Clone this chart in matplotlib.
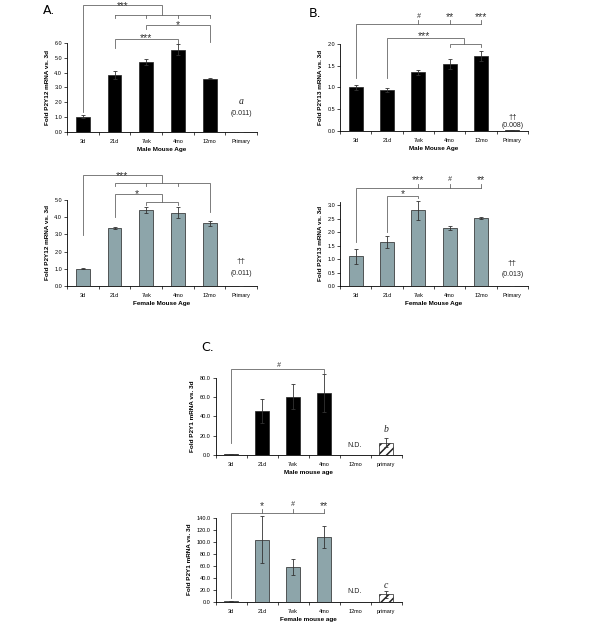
import matplotlib
matplotlib.use('Agg')
import matplotlib.pyplot as plt
import numpy as np

plt.rcParams['font.family'] = ['Liberation Sans', 'DejaVu Sans']
plt.rcParams['hatch.linewidth'] = 1.1

ages = ['3d', '21d', '7wk', '4mo', '12mo', 'Primary']
ages_c = ['3d', '21d', '7wk', '4mo', '12mo', 'primary']

# P2Y12 fold change vs 3d
p2y12_male = [1.0, 3.83, 4.73, 5.57, 3.6, 0.011]
p2y12_male_err = [0.1, 0.27, 0.2, 0.35, 0.03, 0]
p2y12_female = [1.0, 3.35, 4.42, 4.26, 3.64, 0.011]
p2y12_female_err = [0.02, 0.05, 0.18, 0.32, 0.15, 0]
# P2Y13
p2y13_male = [1.0, 0.94, 1.35, 1.54, 1.72, 0.008]
p2y13_male_err = [0.06, 0.04, 0.06, 0.11, 0.12, 0]
p2y13_female = [1.11, 1.63, 2.8, 2.15, 2.51, 0.013]
p2y13_female_err = [0.28, 0.22, 0.36, 0.09, 0.04, 0]
# P2Y1 (12mo not detected)
p2y1_male = [1.0, 45.5, 60.3, 64.1, np.nan, 12.8]
p2y1_male_err = [0.3, 12.4, 13.0, 19.8, np.nan, 4.5]
p2y1_female = [1.0, 103.0, 57.8, 107.8, np.nan, 12.2]
p2y1_female_err = [0.5, 39.0, 13.3, 18.6, np.nan, 5.5]

BLACK = '#000000'
TEAL = '#8da5aa'
LINE = '#666666'

fig = plt.figure(figsize=(6, 6.28), dpi=100)


def bar_panel(rect, labels, vals, errs, color, ylim, yticks, ylabel, xlabel, hatch_last=False):
    ax = fig.add_axes(rect)
    x = np.arange(len(labels))
    bars = ax.bar(x, vals, width=0.44, color=color, edgecolor='#222222', linewidth=0.5, zorder=2)
    if hatch_last:
        bars[-1].set_facecolor('white')
        bars[-1].set_hatch('////')
    eb = ax.errorbar(x, vals, yerr=errs, fmt='none', ecolor='#333333', elinewidth=0.6,
                     capsize=1.5, capthick=0.6, zorder=3)
    for a in list(eb.lines[1]) + list(eb.lines[2]):
        a.set_clip_on(False)
    ax.set_xlim(-0.5, len(labels) - 0.5)
    ax.set_ylim(*ylim)
    ax.set_yticks(yticks)
    ax.set_yticklabels(['%.1f' % t for t in yticks])
    ax.set_xticks(x)
    ax.set_xticklabels(labels)
    ax.set_xticks(np.arange(-0.5, len(labels)), minor=True)
    ax.tick_params(axis='x', which='major', length=0, pad=5, labelsize=4)
    ax.tick_params(axis='x', which='minor', length=2, width=0.5, direction='out')
    ax.tick_params(axis='y', length=2, width=0.5, direction='out', pad=1.5, labelsize=4)
    for s in ['top', 'right']:
        ax.spines[s].set_visible(False)
    for s in ['left', 'bottom']:
        ax.spines[s].set_linewidth(0.6)
    ax.set_ylabel(ylabel, fontsize=4.6, fontweight='bold', labelpad=3)
    ax.set_xlabel(xlabel, fontsize=4.6, fontweight='bold', labelpad=2.5)
    return ax


def path(ax, xs, ys):
    ax.plot(xs, ys, color=LINE, lw=0.6, clip_on=False, solid_joinstyle='miter')


def star(ax, x, y, s, size=7.5):
    # asterisks sit high in the em box, so anchor them on the baseline a bit below
    ax.text(x, y, s, ha='center', va='baseline', fontsize=size, color='#333333', clip_on=False)


def hashmark(ax, x, y):
    ax.text(x, y, '#', ha='center', va='baseline', fontsize=5, style='italic',
            color='#333333', clip_on=False)


def tag(ax, x, y, s, size=5, **kw):
    ax.text(x, y, s, ha='center', va='center', fontsize=size, color='#222222', clip_on=False, **kw)


# ---- A: P2Y12 male
ax = bar_panel([0.1117, 0.7903, 0.3167, 0.1408], ages, p2y12_male, p2y12_male_err, BLACK,
               (0, 6.0), np.arange(0, 6.1, 1.0), 'Fold P2Y12 mRNA vs. 3d', 'Male Mouse Age')
path(ax, [0, 0, 2.5, 2.5], [1.34, 8.6, 8.6, 7.92])
path(ax, [1, 4], [7.92, 7.92])
for xi in [1, 2, 3, 4]:
    path(ax, [xi, xi], [7.92, 7.72])
star(ax, 1.25, 8.3, '***', size=7)
path(ax, [2, 2, 4, 4], [6.97, 7.24, 7.24, 6.09])
star(ax, 3, 7.05, '*')
path(ax, [1, 1, 3, 3], [5.7, 6.27, 6.27, 5.95])
star(ax, 2, 6.15, '***')
tag(ax, 5, 2.08, 'a', size=7, family='Liberation Serif', style='italic')
tag(ax, 5, 1.25, '(0.011)')

# ---- A: P2Y12 female
ax = bar_panel([0.1117, 0.5446, 0.3167, 0.137], ages, p2y12_female, p2y12_female_err, TEAL,
               (0, 5.0), np.arange(0, 5.1, 1.0), 'Fold P2Y12 mRNA vs. 3d', 'Female Mouse Age')
path(ax, [0, 0, 2.5, 2.5], [2.96, 6.45, 6.45, 5.97])
path(ax, [1, 1, 4, 4], [5.8, 5.97, 5.97, 4.32])
for xi in [2, 3]:
    path(ax, [xi, xi], [5.97, 5.8])
star(ax, 1.25, 6.2, '***')
path(ax, [1, 1, 2.5, 2.5], [4.03, 5.35, 5.35, 4.9])
path(ax, [2, 2, 3, 3], [4.71, 4.9, 4.9, 4.71])
star(ax, 1.7, 5.15, '*')
tag(ax, 5, 1.45, '\u2020\u2020', size=6)
tag(ax, 5, 0.70, '(0.011)')

# ---- B: P2Y13 male
ax = bar_panel([0.5667, 0.7919, 0.3133, 0.138], ages, p2y13_male, p2y13_male_err, BLACK,
               (0, 2.0), np.arange(0, 2.01, 0.5), 'Fold P2Y13 mRNA vs. 3d', 'Male Mouse Age')
path(ax, [0, 0, 4], [1.21, 2.46, 2.46])
for xi in [2, 3, 4]:
    path(ax, [xi, xi], [2.46, 2.55])
hashmark(ax, 2, 2.6)
star(ax, 3, 2.55, '**')
star(ax, 4, 2.55, '***')
path(ax, [1, 1, 3.45, 3.45], [1.21, 2.13, 2.13, 1.99])
path(ax, [3, 3, 4, 4], [1.92, 1.99, 1.99, 1.92])
star(ax, 2.17, 2.12, '***')
tag(ax, 5, 0.31, '\u2020\u2020', size=5.5)
tag(ax, 5, 0.13, '(0.008)')

# ---- B: P2Y13 female
ax = bar_panel([0.5667, 0.5446, 0.3133, 0.134], ages, p2y13_female, p2y13_female_err, TEAL,
               (0, 3.12), np.arange(0, 3.01, 0.5), 'Fold P2Y13 mRNA vs. 3d', 'Female Mouse Age')
path(ax, [0, 0, 4], [1.62, 3.64, 3.64])
for xi in [2, 3, 4]:
    path(ax, [xi, xi], [3.64, 3.78])
star(ax, 2, 3.8, '***')
hashmark(ax, 3, 3.88)
star(ax, 4, 3.8, '**')
path(ax, [1, 1, 2, 2], [2.01, 3.35, 3.35, 3.27])
star(ax, 1.5, 3.3, '*')
tag(ax, 5, 0.83, '\u2020\u2020', size=6)
tag(ax, 5, 0.41, '(0.013)')

# ---- C: P2Y1 male
ax = bar_panel([0.3592, 0.2755, 0.31, 0.1231], ages_c, p2y1_male, p2y1_male_err, BLACK,
               (0, 80), np.arange(0, 81, 20.0), 'Fold P2Y1 mRNA vs. 3d', 'Male mouse age',
               hatch_last=True)
path(ax, [0, 0, 3, 3], [12.4, 88.7, 88.7, 85.2])
hashmark(ax, 1.55, 91.5)
tag(ax, 4, 9.3, 'N.D.', size=5)
tag(ax, 5, 25.9, 'b', size=7, family='Liberation Serif', style='italic')

# ---- C: P2Y1 female
ax = bar_panel([0.3592, 0.0419, 0.31, 0.1338], ages_c, p2y1_female, p2y1_female_err, TEAL,
               (0, 140), np.arange(0, 141, 20.0), 'Fold P2Y1 mRNA vs. 3d', 'Female mouse age',
               hatch_last=True)
path(ax, [0, 0, 3], [5.6, 148, 148])
for xi in [1, 2, 3]:
    path(ax, [xi, xi], [148, 153.7])
star(ax, 1, 155, '*')
hashmark(ax, 2, 160)
star(ax, 3, 155, '**')
tag(ax, 4, 16.7, 'N.D.', size=5)
tag(ax, 5, 27.8, 'c', size=7, family='Liberation Serif', style='italic')

fig.text(0.072, 0.983, 'A.', fontsize=9, va='center', ha='left', family='DejaVu Sans')
fig.text(0.515, 0.979, 'B.', fontsize=9, va='center', ha='left', family='DejaVu Sans')
fig.text(0.336, 0.446, 'C.', fontsize=9, va='center', ha='left', family='DejaVu Sans')

fig.savefig('out.png', dpi=100)
